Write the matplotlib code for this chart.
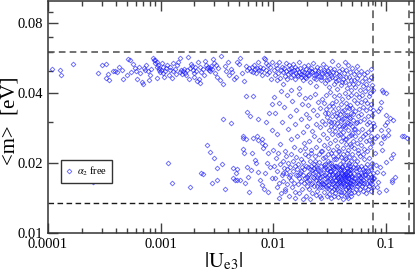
import matplotlib
matplotlib.use('Agg')
import matplotlib.pyplot as plt
from matplotlib.ticker import FixedLocator, FixedFormatter, NullFormatter, LogLocator

plt.rcParams['font.family'] = ['Liberation Serif', 'DejaVu Serif']
plt.rcParams['mathtext.fontset'] = 'stix'

# ---------------- data (|Ue3|, <m> [eV]) ----------------
upper_left = [
    (1.08e-4, .0510), (1.28e-4, .0505), (1.30e-4, .0480), (1.67e-4, .0535), (2.80e-4, .0490),
    (3.00e-4, .0530), (3.30e-4, .0535), (3.40e-4, .0485), (3.30e-4, .0466), (3.45e-4, .0458),
    (3.80e-4, .0500), (3.95e-4, .0497), (4.10e-4, .0494), (4.50e-4, .0502), (4.60e-4, .0462),
    (5.00e-4, .0480), (5.10e-4, .0562), (5.30e-4, .0555), (5.70e-4, .0535), (5.90e-4, .0512),
    (6.10e-4, .0500), (6.20e-4, .0460), (6.40e-4, .0520), (6.80e-4, .0447), (7.00e-4, .0440),
    (7.30e-4, .0502), (7.40e-4, .0531), (7.70e-4, .0500), (7.90e-4, .0455), (8.50e-4, .0570),
    (8.80e-4, .0556), (9.00e-4, .0543), (9.30e-4, .0521), (9.60e-4, .0503), (9.80e-4, .0492),
    (4.30e-4, .0518), (5.50e-4, .0492), (6.60e-4, .0488), (8.20e-4, .0510), (8.00e-4, .0478),
    (9.20e-4, .0468), (7.10e-4, .0514),
]

upper_mid = [
    (8.9e-4, .0558), (9.2e-4, .0545), (9.5e-4, .0532), (9.7e-4, .0515), (1.00e-3, .0505),
    (1.02e-3, .0540), (1.04e-3, .0522), (1.06e-3, .0488), (1.08e-3, .0470), (1.10e-3, .0500),
    (1.12e-3, .0512), (1.15e-3, .0530), (1.18e-3, .0478), (1.20e-3, .0521), (1.22e-3, .0502),
    (1.25e-3, .0465), (1.28e-3, .0538), (1.30e-3, .0497), (1.33e-3, .0510), (1.36e-3, .0486),
    (1.40e-3, .0528), (1.44e-3, .0545), (1.48e-3, .0568), (1.50e-3, .0492), (1.52e-3, .0503),
    (1.55e-3, .0484), (1.58e-3, .0498), (1.61e-3, .0510), (1.64e-3, .0490), (1.67e-3, .0478),
    (1.70e-3, .0502), (1.74e-3, .0575), (1.78e-3, .0460), (1.82e-3, .0515), (1.86e-3, .0535),
    (1.90e-3, .0525), (1.93e-3, .0506), (1.96e-3, .0488), (2.00e-3, .0470), (2.03e-3, .0517),
    (2.06e-3, .0499), (2.10e-3, .0450), (2.14e-3, .0545), (2.18e-3, .0462), (2.22e-3, .0520),
    (2.26e-3, .0441), (2.30e-3, .0495), (2.36e-3, .0508), (2.42e-3, .0480), (2.48e-3, .0553),
    (2.55e-3, .0530), (2.60e-3, .0512), (2.64e-3, .0522), (2.68e-3, .0505), (2.72e-3, .0515),
    (2.76e-3, .0498), (2.80e-3, .0526), (2.85e-3, .0510), (2.90e-3, .0565), (2.96e-3, .0540),
    (3.02e-3, .0488), (3.10e-3, .0530), (3.18e-3, .0470), (3.26e-3, .0512), (3.35e-3, .0455),
    (3.45e-3, .0580), (3.55e-3, .0438), (3.70e-3, .0525), (3.82e-3, .0500), (3.95e-3, .0547),
    (4.05e-3, .0480), (4.20e-3, .0510), (4.35e-3, .0492), (4.50e-3, .0462), (4.65e-3, .0470),
    (4.80e-3, .0545), (4.95e-3, .0535), (5.10e-3, .0568), (5.30e-3, .0490), (5.50e-3, .0452),
    (5.70e-3, .0525), (5.90e-3, .0505), (6.10e-3, .0512), (6.30e-3, .0500), (6.45e-3, .0520),
    (6.60e-3, .0495), (6.75e-3, .0530), (6.90e-3, .0508), (7.05e-3, .0488), (7.20e-3, .0515),
    (7.35e-3, .0545), (7.50e-3, .0502), (7.65e-3, .0522), (7.80e-3, .0498), (7.95e-3, .0478),
    (8.10e-3, .0512), (8.25e-3, .0570), (8.40e-3, .0560), (8.55e-3, .0540), (8.70e-3, .0505),
    (8.85e-3, .0485), (9.00e-3, .0530), (9.20e-3, .0495), (9.40e-3, .0518), (9.60e-3, .0462),
    (9.80e-3, .0545),
]

upper_right = [
    (0.0101, .0505), (0.0103, .0478), (0.0105, .0530), (0.0107, .0455), (0.0109, .0512),
    (0.0111, .0490), (0.0113, .0548), (0.0115, .0468), (0.0117, .0502), (0.0119, .0522),
    (0.0121, .0440), (0.0123, .0495), (0.0125, .0515), (0.0127, .0475), (0.0129, .0538),
    (0.0131, .0500), (0.0133, .0460), (0.0135, .0485), (0.0137, .0528), (0.0139, .0508),
    (0.0141, .0492), (0.0143, .0470), (0.0145, .0512), (0.0147, .0498), (0.0149, .0535),
    (0.0151, .0482), (0.0153, .0505), (0.0155, .0462), (0.0157, .0520), (0.0159, .0490),
    (0.0162, .0508), (0.0165, .0475), (0.0168, .0495), (0.0171, .0545), (0.0174, .0515),
    (0.0177, .0485), (0.0180, .0500), (0.0183, .0458), (0.0186, .0525), (0.0189, .0492),
    (0.0192, .0470), (0.0195, .0510), (0.0198, .0488), (0.0202, .0532), (0.0206, .0502),
    (0.0210, .0478), (0.0214, .0448), (0.0218, .0515), (0.0222, .0495), (0.0226, .0540),
    (0.0230, .0468), (0.0234, .0505), (0.0238, .0485), (0.0242, .0430), (0.0246, .0522),
    (0.0250, .0498), (0.0255, .0475), (0.0260, .0512), (0.0265, .0455), (0.0270, .0490),
    (0.0275, .0535), (0.0280, .0505), (0.0285, .0470), (0.0290, .0445), (0.0295, .0520),
    (0.0300, .0485), (0.0305, .0500), (0.0310, .0462), (0.0315, .0425), (0.0320, .0512),
    (0.0326, .0478), (0.0332, .0550), (0.0338, .0495), (0.0344, .0440), (0.0350, .0508),
    (0.0356, .0468), (0.0362, .0488), (0.0368, .0418), (0.0374, .0528), (0.0380, .0455),
    (0.0387, .0498), (0.0394, .0475), (0.0401, .0435), (0.0408, .0510), (0.0415, .0462),
    (0.0422, .0490), (0.0430, .0545), (0.0438, .0448), (0.0446, .0505), (0.0454, .0422),
    (0.0462, .0532), (0.0470, .0470), (0.0478, .0495), (0.0486, .0412), (0.0495, .0458),
    (0.0504, .0515), (0.0513, .0440), (0.0522, .0485), (0.0531, .0428), (0.0540, .0500),
    (0.0550, .0465), (0.0560, .0525), (0.0570, .0445), (0.0580, .0478), (0.0590, .0415),
    (0.0600, .0498), (0.0612, .0452), (0.0624, .0430), (0.0636, .0485), (0.0648, .0408),
    (0.0660, .0465), (0.0672, .0440), (0.0684, .0495), (0.0696, .0420), (0.0708, .0455),
    (0.0720, .0402), (0.0734, .0470), (0.0748, .0435), (0.0762, .0415), (0.0740, .0510),
    (0.0162, .0482), (0.0175, .0470), (0.0185, .0478), (0.0196, .0465), (0.0204, .0482),
    (0.0215, .0500), (0.0228, .0478), (0.0240, .0462), (0.0252, .0488), (0.0268, .0470),
    (0.0282, .0492), (0.0298, .0458), (0.0312, .0488), (0.0335, .0470), (0.0358, .0452),
    (0.0385, .0482), (0.0410, .0448), (0.0440, .0470), (0.0475, .0440), (0.0520, .0455),
]

middle_cloud = [
    (0.0102, .0385), (0.0104, .0330), (0.0108, .0268), (0.0112, .0365), (0.0116, .0242),
    (0.0120, .0302), (0.0124, .0348), (0.0128, .0225), (0.0132, .0392), (0.0136, .0282),
    (0.0140, .0318), (0.0144, .0255), (0.0148, .0372), (0.0152, .0235), (0.0156, .0295),
    (0.0160, .0340), (0.0164, .0262), (0.0168, .0398), (0.0172, .0228), (0.0176, .0310),
    (0.0180, .0358), (0.0184, .0272), (0.0188, .0245), (0.0192, .0382), (0.0196, .0325),
    (0.0199, .0290), (0.0118, .0410), (0.0143, .0415), (0.0170, .0420), (0.0190, .0232),
    (0.0202, .0355), (0.0206, .0248), (0.0210, .0312), (0.0214, .0385), (0.0218, .0228),
    (0.0222, .0275), (0.0226, .0338), (0.0230, .0262), (0.0234, .0398), (0.0238, .0295),
    (0.0242, .0235), (0.0246, .0322), (0.0250, .0368), (0.0254, .0252), (0.0258, .0285),
    (0.0262, .0345), (0.0266, .0225), (0.0270, .0305), (0.0274, .0378), (0.0278, .0268),
    (0.0282, .0240), (0.0286, .0330), (0.0290, .0295), (0.0294, .0392), (0.0298, .0258),
    (0.0302, .0315), (0.0306, .0232), (0.0310, .0352), (0.0314, .0278), (0.0318, .0405),
    (0.0322, .0245), (0.0326, .0300), (0.0330, .0362), (0.0334, .0268), (0.0338, .0228),
    (0.0342, .0335), (0.0346, .0285), (0.0350, .0388), (0.0354, .0252), (0.0358, .0318),
    (0.0362, .0372), (0.0366, .0238), (0.0370, .0298), (0.0374, .0345), (0.0378, .0265),
    (0.0382, .0395), (0.0386, .0225), (0.0390, .0325), (0.0394, .0280), (0.0398, .0358),
    (0.0402, .0248), (0.0406, .0310), (0.0410, .0378), (0.0414, .0272), (0.0418, .0232),
    (0.0422, .0340), (0.0426, .0292), (0.0430, .0402), (0.0434, .0255), (0.0438, .0322),
    (0.0442, .0365), (0.0446, .0242), (0.0450, .0302), (0.0454, .0348), (0.0458, .0278),
    (0.0462, .0385), (0.0466, .0228), (0.0470, .0315), (0.0474, .0262), (0.0478, .0355),
    (0.0482, .0295), (0.0486, .0238), (0.0490, .0392), (0.0494, .0328), (0.0498, .0270),
    (0.0502, .0345), (0.0507, .0250), (0.0512, .0308), (0.0517, .0375), (0.0522, .0282),
    (0.0527, .0232), (0.0532, .0335), (0.0537, .0262), (0.0542, .0398), (0.0547, .0298),
    (0.0552, .0245), (0.0557, .0362), (0.0562, .0318), (0.0567, .0272), (0.0572, .0228),
    (0.0577, .0342), (0.0582, .0385), (0.0587, .0255), (0.0592, .0305), (0.0597, .0368),
    (0.0602, .0240), (0.0608, .0325), (0.0614, .0282), (0.0620, .0395), (0.0626, .0262),
    (0.0632, .0348), (0.0638, .0230), (0.0644, .0310), (0.0650, .0375), (0.0656, .0268),
    (0.0662, .0338), (0.0668, .0248), (0.0674, .0295), (0.0680, .0362), (0.0686, .0225),
    (0.0692, .0318), (0.0698, .0272), (0.0704, .0388), (0.0710, .0252), (0.0716, .0302),
    (0.0722, .0345), (0.0728, .0235), (0.0734, .0280), (0.0740, .0358), (0.0746, .0262),
    (0.0752, .0322), (0.0758, .0245), (0.0764, .0298), (0.0770, .0340),
    (0.0285, .0365), (0.0295, .0342), (0.0305, .0328), (0.0315, .0305), (0.0325, .0290),
    (0.0333, .0318), (0.0341, .0352), (0.0349, .0302), (0.0357, .0275), (0.0365, .0330),
    (0.0373, .0312), (0.0381, .0290), (0.0389, .0268), (0.0397, .0305), (0.0405, .0335),
    (0.0413, .0288), (0.0421, .0260), (0.0429, .0312), (0.0437, .0285), (0.0445, .0255),
    (0.0453, .0322), (0.0461, .0298), (0.0469, .0345), (0.0477, .0242), (0.0485, .0312),
    (0.0493, .0265), (0.0501, .0290), (0.0515, .0325), (0.0535, .0282), (0.0555, .0302),
]

lower_cloud = [
    (0.0101, .0195), (0.0103, .0172), (0.0105, .0210), (0.0107, .0158), (0.0109, .0185),
    (0.0111, .0222), (0.0113, .0165), (0.0115, .0198), (0.0117, .0148), (0.0119, .0178),
    (0.0121, .0205), (0.0123, .0168), (0.0125, .0190), (0.0127, .0155), (0.0129, .0215),
    (0.0131, .0182), (0.0133, .0162), (0.0135, .0200), (0.0137, .0175), (0.0139, .0145),
    (0.0141, .0192), (0.0143, .0218), (0.0145, .0170), (0.0147, .0158), (0.0149, .0185),
    (0.0151, .0205), (0.0153, .0165), (0.0155, .0195), (0.0157, .0150), (0.0159, .0178),
    (0.0161, .0212), (0.0163, .0188), (0.0165, .0162), (0.0167, .0198), (0.0169, .0172),
    (0.0171, .0148), (0.0173, .0182), (0.0175, .0208), (0.0177, .0168), (0.0179, .0192),
    (0.0181, .0155), (0.0183, .0178), (0.0185, .0202), (0.0187, .0165), (0.0189, .0188),
    (0.0191, .0218), (0.0193, .0172), (0.0195, .0145), (0.0197, .0195), (0.0199, .0160),
    (0.0184, .0140), (0.0156, .0142), (0.0128, .0152), (0.0112, .0142), (0.0198, .0175),
    (0.0176, .0185), (0.0166, .0178), (0.0142, .0178), (0.0132, .0188), (0.0122, .0182),
    (0.0201, .0168), (0.0204, .0192), (0.0207, .0155), (0.0210, .0180), (0.0213, .0205),
    (0.0216, .0162), (0.0219, .0186), (0.0222, .0148), (0.0225, .0174), (0.0228, .0198),
    (0.0231, .0160), (0.0234, .0183), (0.0237, .0215), (0.0240, .0170), (0.0243, .0152),
    (0.0246, .0190), (0.0249, .0165), (0.0252, .0178), (0.0255, .0202), (0.0258, .0145),
    (0.0261, .0185), (0.0264, .0168), (0.0267, .0195), (0.0270, .0158), (0.0273, .0176),
    (0.0276, .0210), (0.0279, .0163), (0.0282, .0188), (0.0285, .0150), (0.0288, .0172),
    (0.0291, .0198), (0.0294, .0166), (0.0297, .0182), (0.0300, .0156), (0.0303, .0175),
    (0.0306, .0220), (0.0309, .0161), (0.0312, .0190), (0.0315, .0147), (0.0318, .0170),
    (0.0321, .0185), (0.0324, .0158), (0.0327, .0200), (0.0330, .0168), (0.0333, .0178),
    (0.0336, .0152), (0.0339, .0192), (0.0342, .0164), (0.0345, .0174), (0.0348, .0208),
    (0.0351, .0160), (0.0354, .0184), (0.0357, .0148), (0.0360, .0170), (0.0363, .0195),
    (0.0366, .0163), (0.0369, .0180), (0.0372, .0155), (0.0375, .0172), (0.0378, .0215),
    (0.0381, .0166), (0.0384, .0188), (0.0387, .0151), (0.0390, .0176), (0.0393, .0198),
    (0.0396, .0160), (0.0399, .0182), (0.0402, .0146), (0.0405, .0170), (0.0408, .0192),
    (0.0411, .0158), (0.0414, .0178), (0.0417, .0205), (0.0420, .0165), (0.0423, .0186),
    (0.0426, .0150), (0.0429, .0172), (0.0432, .0196), (0.0435, .0162), (0.0438, .0180),
    (0.0441, .0154), (0.0444, .0175), (0.0447, .0210), (0.0450, .0168), (0.0453, .0190),
    (0.0456, .0145), (0.0459, .0166), (0.0462, .0185), (0.0465, .0158), (0.0468, .0200),
    (0.0471, .0172), (0.0474, .0152), (0.0477, .0182), (0.0480, .0164), (0.0483, .0194),
    (0.0486, .0148), (0.0489, .0176), (0.0492, .0160), (0.0495, .0188), (0.0498, .0218),
    (0.0202, .0178), (0.0208, .0170), (0.0214, .0188), (0.0220, .0165), (0.0226, .0182),
    (0.0232, .0172), (0.0238, .0195), (0.0244, .0160), (0.0250, .0186), (0.0256, .0168),
    (0.0262, .0175), (0.0268, .0182), (0.0274, .0165), (0.0280, .0196), (0.0286, .0178),
    (0.0292, .0160), (0.0298, .0188), (0.0304, .0168), (0.0310, .0178), (0.0316, .0200),
    (0.0322, .0172), (0.0328, .0185), (0.0334, .0162), (0.0340, .0180), (0.0346, .0190),
    (0.0352, .0170), (0.0358, .0178), (0.0364, .0158), (0.0370, .0192), (0.0376, .0182),
    (0.0382, .0174), (0.0388, .0165), (0.0394, .0186), (0.0400, .0172), (0.0406, .0180),
    (0.0412, .0195), (0.0418, .0168), (0.0424, .0176), (0.0430, .0185), (0.0436, .0170),
    (0.0442, .0182), (0.0448, .0162), (0.0454, .0178), (0.0460, .0196), (0.0466, .0172),
    (0.0472, .0188), (0.0478, .0166), (0.0484, .0180), (0.0490, .0170), (0.0496, .0162),
    (0.0205, .0215), (0.0218, .0222), (0.0235, .0205), (0.0253, .0218), (0.0271, .0225),
    (0.0290, .0212), (0.0308, .0205), (0.0325, .0222), (0.0343, .0215), (0.0361, .0208),
    (0.0380, .0225), (0.0398, .0212), (0.0416, .0220), (0.0434, .0208), (0.0452, .0222),
    (0.0470, .0212), (0.0488, .0205), (0.0212, .0140), (0.0265, .0142), (0.0325, .0141),
    (0.0380, .0143), (0.0420, .0140), (0.0460, .0142), (0.0494, .0144), (0.0298, .0144),
    (0.0350, .0145), (0.0242, .0146), (0.0400, .0150), (0.0440, .0147), (0.0475, .0155),
    (0.0215, .0195), (0.0247, .0175), (0.0283, .0162), (0.0319, .0185), (0.0355, .0195),
    (0.0391, .0168), (0.0427, .0160), (0.0463, .0176), (0.0311, .0155), (0.0367, .0175),
    (0.0229, .0190), (0.0259, .0158), (0.0289, .0192), (0.0331, .0195), (0.0373, .0165),
    (0.0403, .0188), (0.0433, .0178), (0.0457, .0158), (0.0481, .0186), (0.0345, .0155),
    (0.0502, .0175), (0.0506, .0158), (0.0510, .0192), (0.0514, .0168), (0.0518, .0210),
    (0.0522, .0150), (0.0526, .0182), (0.0530, .0165), (0.0534, .0198), (0.0538, .0172),
    (0.0542, .0155), (0.0546, .0185), (0.0550, .0168), (0.0554, .0205), (0.0558, .0160),
    (0.0562, .0178), (0.0566, .0192), (0.0570, .0148), (0.0574, .0170), (0.0578, .0188),
    (0.0582, .0162), (0.0586, .0215), (0.0590, .0175), (0.0594, .0155), (0.0598, .0182),
    (0.0603, .0168), (0.0608, .0195), (0.0613, .0160), (0.0618, .0178), (0.0623, .0152),
    (0.0628, .0188), (0.0633, .0170), (0.0638, .0208), (0.0643, .0165), (0.0648, .0180),
    (0.0653, .0158), (0.0658, .0192), (0.0663, .0172), (0.0668, .0148), (0.0673, .0185),
    (0.0678, .0165), (0.0683, .0198), (0.0688, .0175), (0.0693, .0155), (0.0698, .0185),
    (0.0703, .0168), (0.0708, .0210), (0.0713, .0160), (0.0718, .0180), (0.0723, .0192),
    (0.0728, .0165), (0.0733, .0175), (0.0738, .0152), (0.0743, .0188), (0.0748, .0170),
    (0.0753, .0200), (0.0758, .0162), (0.0763, .0182), (0.0768, .0172), (0.0772, .0158),
    (0.0520, .0172), (0.0540, .0190), (0.0560, .0165), (0.0580, .0178), (0.0600, .0172),
    (0.0620, .0165), (0.0640, .0185), (0.0660, .0178), (0.0565, .0222), (0.0625, .0218),
]

sparse_mid = [
    (2.5e-4, .0166), (1.17e-3, .0200), (1.27e-3, .0164), (1.83e-3, .0158), (2.6e-3, .0239),
    (2.75e-3, .0223), (2.3e-3, .0181), (2.4e-3, .0179), (2.85e-3, .0164), (3.0e-3, .0210),
    (3.2e-3, .0170), (3.15e-3, .0190), (3.5e-3, .0198), (3.7e-3, .0155), (4.4e-3, .0190),
    (4.4e-3, .0172), (4.6e-3, .0170), (4.8e-3, .0169), (4.8e-3, .0188), (4.7e-3, .0181),
    (5.1e-3, .0170), (5.4e-3, .0258), (5.4e-3, .0230), (5.45e-3, .0221), (5.7e-3, .0253),
    (5.6e-3, .0164), (5.8e-3, .0192), (6.0e-3, .0175), (6.3e-3, .0186), (6.1e-3, .0150),
    (6.5e-3, .0221), (6.9e-3, .0206), (7.1e-3, .0200), (7.3e-3, .0183), (6.6e-3, .0258),
    (7.2e-3, .0263), (7.4e-3, .0251), (8.0e-3, .0244), (8.2e-3, .0232), (8.5e-3, .0239),
    (7.6e-3, .0169), (8.0e-3, .0161), (8.5e-3, .0181), (9.0e-3, .0150), (9.4e-3, .0192),
    (9.8e-3, .0172), (9.95e-3, .0227), (8.8e-3, .0200), (8.25e-3, .0154), (9.05e-3, .0221),
    (5.7e-3, .0391), (6.6e-3, .0391), (5.8e-3, .0331), (6.2e-3, .0320), (7.3e-3, .0310),
    (3.6e-3, .0309), (4.2e-3, .0297), (5.35e-3, .0262), (7.9e-3, .0254), (9.8e-3, .0277),
    (9.7e-3, .0360), (9.2e-3, .0330), (8.6e-3, .0300),
]

right_side = [
    (0.095, .0406), (0.100, .0400), (0.090, .0366), (0.085, .0337), (0.100, .0321),
    (0.102, .0300), (0.116, .0306), (0.099, .0291), (0.090, .0277), (0.104, .0277),
    (0.138, .0263), (0.081, .0256), (0.095, .0263), (0.0836, .0263), (0.096, .0258),
    (0.105, .0265), (0.090, .0244), (0.116, .0218), (0.111, .0210), (0.100, .0202),
    (0.089, .0192), (0.084, .0183), (0.095, .0181), (0.113, .0169), (0.120, .0175),
    (0.084, .0158), (0.100, .0153), (0.155, .0258), (0.145, .0263), (0.085, .0166),
    (0.113, .0166), (0.093, .0415), (0.088, .0345), (0.110, .0312), (0.080, .0222),
    (0.082, .0196), (0.079, .0290), (0.087, .0150), (0.079, .0172), (0.092, .0228),
]

series_label = r'$\alpha_2$ free'
x_major = [1e-4, 1e-3, 1e-2, 1e-1]
x_labels = ['0.0001', '0.001', '0.01', '0.1']
y_major = [0.01, 0.02, 0.04, 0.08]
y_labels = ['0.01', '0.02', '0.04', '0.08']
y_minor = [0.03, 0.05, 0.06, 0.07, 0.09]
h_lines = [0.06, 0.0135]
v_lines = [0.077, 0.16]

# ---------------- plot ----------------
pts = upper_left + upper_mid + upper_right + middle_cloud + lower_cloud + sparse_mid + right_side
xs = [p[0] for p in pts]
ys = [p[1] for p in pts]

fig = plt.figure(figsize=(4.15, 2.75), dpi=100)
ax = fig.add_axes([48 / 415, 42 / 275, 366 / 415, 232 / 275])
ax.set_xscale('log')
ax.set_yscale('log')

ax.plot(xs, ys, ls='none', marker='D', ms=2.4, mfc='none',
        mec=(0.1, 0.1, 1.0, 0.65), mew=0.65, label=series_label, zorder=3)

ax.axhline(h_lines[0], color='0.35', lw=1.2, ls=(0, (4, 2.5)), zorder=2)
ax.axhline(h_lines[1], color='0.1', lw=1.0, ls=(0, (4, 2.5)), zorder=2)
for v in v_lines:
    ax.axvline(v, color='0.45', lw=1.4, ls=(0, (4, 2.5)), zorder=2)

ax.set_xlim(1e-4, 0.178)
ax.set_ylim(0.01, 0.1)

ax.xaxis.set_major_locator(FixedLocator(x_major))
ax.xaxis.set_major_formatter(FixedFormatter(x_labels))
ax.xaxis.set_minor_locator(LogLocator(base=10, subs=[2, 3, 4, 5, 6, 7, 8, 9], numticks=20))
ax.xaxis.set_minor_formatter(NullFormatter())
ax.yaxis.set_major_locator(FixedLocator(y_major))
ax.yaxis.set_major_formatter(FixedFormatter(y_labels))
ax.yaxis.set_minor_locator(FixedLocator(y_minor))
ax.yaxis.set_minor_formatter(NullFormatter())

ax.tick_params(which='both', direction='in', top=True, right=True, width=1.0, color='0.25')
ax.tick_params(which='major', length=7, labelsize=10.5, pad=3.5)
ax.tick_params(which='minor', length=3.5)
for s in ax.spines.values():
    s.set_linewidth(1.1)
    s.set_color('0.2')

fig.text(10 / 415, 1 - 121 / 275, '<m>  [eV]', rotation=90, ha='center', va='center', fontsize=15)
fig.text(224 / 415, 1 - 261 / 275, r'$|\mathrm{U}_{\mathrm{e3}}|$', ha='center', va='center', fontsize=15)

leg = ax.legend(loc='lower left', bbox_to_anchor=(0.036, 0.215), fontsize=7.5, fancybox=False,
                edgecolor='0.2', framealpha=1, handlelength=0.6, handletextpad=0.5,
                borderpad=0.45, borderaxespad=0)
leg.get_frame().set_linewidth(1.0)

fig.savefig('out.png', dpi=100)
